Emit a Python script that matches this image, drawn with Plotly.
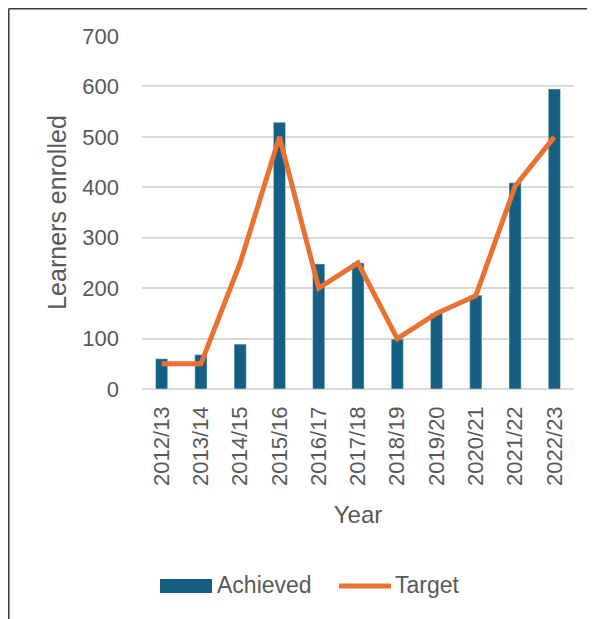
import plotly.graph_objects as go

years = ["2012/13", "2013/14", "2014/15", "2015/16", "2016/17", "2017/18",
         "2018/19", "2019/20", "2020/21", "2021/22", "2022/23"]
achieved = [60, 68, 89, 529, 248, 250, 99, 150, 186, 409, 595]
target = [50, 50, 250, 500, 200, 250, 100, 150, 185, 402, 500]
y_ticks = [0, 100, 200, 300, 400, 500, 600, 700]

BLUE = "#156082"
ORANGE = "#E97132"
GREY = "#595959"
FONT = "Liberation Sans"

fig = go.Figure()
fig.add_trace(go.Bar(x=years, y=achieved, name="Achieved", marker_color=BLUE,
                     width=0.31, showlegend=False))
fig.add_trace(go.Scatter(x=years, y=target, name="Target", mode="lines",
                         line=dict(color=ORANGE, width=5), showlegend=False))

# page has an 8px body margin, so the figure is drawn offset by 8px
OFF = 8
W, H = 595 - OFF, 619 - OFF
L, R, T, B = 142 - OFF, 21, 36 - OFF, 230
pw, ph = W - L - R, H - T - B

def px(x):
    return (x - OFF - L) / pw

def py(y):
    return (H - B - (y - OFF)) / ph

FRAME = OFF + 0.75  # as close to the original frame as the page allows
shapes = [
    dict(type="line", xref="paper", yref="paper", x0=px(FRAME), x1=px(600),
         y0=py(FRAME), y1=py(FRAME), line=dict(color="#3a3a3a", width=1.5)),
    dict(type="line", xref="paper", yref="paper", x0=px(FRAME), x1=px(FRAME),
         y0=py(FRAME), y1=py(625), line=dict(color="#3a3a3a", width=1.5)),
    dict(type="rect", xref="paper", yref="paper", x0=px(160), x1=px(212),
         y0=py(593), y1=py(579), fillcolor=BLUE, line=dict(width=0)),
    dict(type="line", xref="paper", yref="paper", x0=px(339), x1=px(391),
         y0=py(586), y1=py(586), line=dict(color=ORANGE, width=5)),
]
annotations = [
    dict(text="Achieved", xref="paper", yref="paper", x=px(215), y=py(585),
         xanchor="left", yanchor="middle", showarrow=False,
         font=dict(family=FONT, size=23, color=GREY)),
    dict(text="Target", xref="paper", yref="paper", x=px(393), y=py(585),
         xanchor="left", yanchor="middle", showarrow=False,
         font=dict(family=FONT, size=23, color=GREY)),
]

fig.update_layout(
    width=W, height=H,
    margin=dict(l=L, r=R, t=T, b=B, autoexpand=False),
    paper_bgcolor="white", plot_bgcolor="white",
    font=dict(family=FONT, size=22, color=GREY),
    shapes=shapes, annotations=annotations,
    showlegend=False,
)
fig.update_xaxes(
    tickangle=-90, showgrid=False, showline=False, zeroline=False,
    ticks="", ticklabelstandoff=12,
    title=dict(text="Year", standoff=21, font=dict(size=24, color=GREY)),
    tickfont=dict(size=22, color=GREY),
)
fig.update_yaxes(
    range=[0, 700], tickvals=y_ticks, showgrid=True, gridcolor="#d9d9d9",
    gridwidth=1.5, zeroline=True, zerolinecolor="#d9d9d9", zerolinewidth=1.5,
    showline=False, ticks="", ticklabelstandoff=22,
    title=dict(text="Learners enrolled", standoff=8, font=dict(size=25, color=GREY)),
    tickfont=dict(size=22, color=GREY),
)

fig.write_html("out.html")
